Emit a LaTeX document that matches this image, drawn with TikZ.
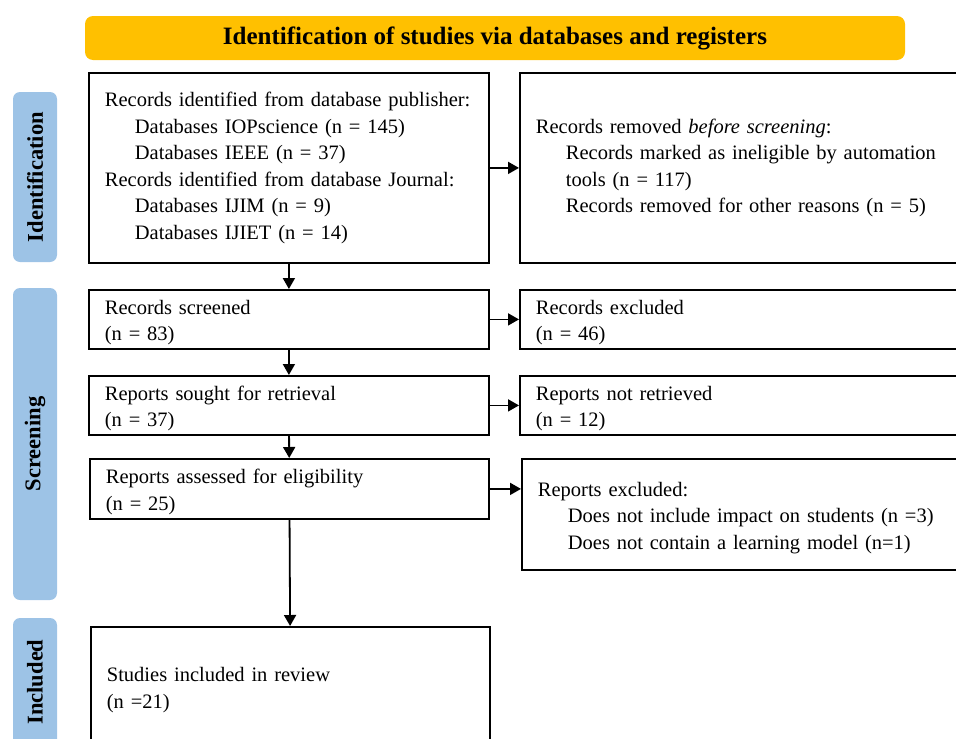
\documentclass[tikz,border=0pt]{standalone}
\usepackage{fontspec}
\setmainfont{Liberation Serif}
\usetikzlibrary{arrows.meta}
\definecolor{bannerorange}{HTML}{FFC000}
\definecolor{phaseblue}{HTML}{9DC3E6}
\newcommand{\ind}{\hspace*{30pt}}

\begin{document}
\begin{tikzpicture}[x=1pt, y=-1pt,
		box/.style={draw, line width=1.8pt, anchor=north west, align=left, inner xsep=16pt, inner ysep=0pt, font=\fontsize{20.5}{26.5}\selectfont},
		lowered/.style={execute at begin node={\rule{0pt}{21pt}}},
		phase/.style={fill=phaseblue, rounded corners=7pt, rotate=90, minimum height=44pt, inner sep=0pt, font=\fontsize{22.5}{27}\selectfont\bfseries},
		arr/.style={line width=1.8pt, -{Triangle[length=11pt, width=12pt]}}]
			\useasboundingbox (0,0) rectangle (956,739);
			\clip (0,0) rectangle (956,739);
			% banner
			\node[fill=bannerorange, rounded corners=8pt, minimum width=820pt, minimum height=44pt, font=\fontsize{25}{30}\selectfont\bfseries] (banner) at (495,38) {Identification of studies via databases and registers};
			% phases
			\node[phase, minimum width=170pt] (ident) at (35,177) {Identification};
			\node[phase, minimum width=312pt] (screen) at (35,444) {Screening};
			\node[phase, minimum width=128pt] (incl) at (35,682) {Included};
			% left column
			\node[box, text width=368pt, minimum height=190pt] (records) at (88,72) {Records identified from database publisher:\\
				\ind Databases IOPscience (n = 145)\\
				\ind Databases IEEE (n = 37)\\
				Records identified from database Journal:\\
				\ind Databases IJIM (n = 9)\\
				\ind Databases IJIET (n = 14)};
			\node[box, lowered, text width=368pt, minimum height=59pt] (screened) at (88,289) {Records screened\\(n = 83)};
			\node[box, lowered, text width=368pt, minimum height=59pt] (sought) at (88,375) {Reports sought for retrieval\\(n = 37)};
			\node[box, lowered, text width=367pt, minimum height=60pt] (assessed) at (89,458) {Reports assessed for eligibility\\(n = 25)};
			\node[box, lowered, text width=367pt, minimum height=120pt] (included) at (90,626) {Studies included in review\\(n =21)};
			% right column
			\node[box, text width=413pt, minimum height=190pt] (removed) at (519,72) {Records removed \textit{before screening}:\\
				\ind Records marked as ineligible by automation\\
				\ind tools (n = 117)\\
				\ind Records removed for other reasons (n = 5)};
			\node[box, lowered, text width=413pt, minimum height=59pt] (excluded) at (519,289) {Records excluded\\(n = 46)};
			\node[box, lowered, text width=413pt, minimum height=59pt] (notret) at (519,375) {Reports not retrieved\\(n = 12)};
			\node[box, lowered, text width=411pt, minimum height=111pt] (repexcl) at (521,458) {Reports excluded:\\
				\ind Does not include impact on students (n =3)\\
				\ind Does not contain a learning model (n=1)};
			% arrows
			\draw[arr] (records) -- (screened);
			\draw[arr] (screened) -- (sought);
			\draw[arr] (sought) -- (assessed);
			\draw[arr] (assessed) -- (included);
			\draw[arr] (records) -- (removed);
			\draw[arr] (screened) -- (excluded);
			\draw[arr] (sought) -- (notret);
			\draw[arr] (assessed.east) -- (assessed.east -| repexcl.west);
		\end{tikzpicture}
\end{document}
